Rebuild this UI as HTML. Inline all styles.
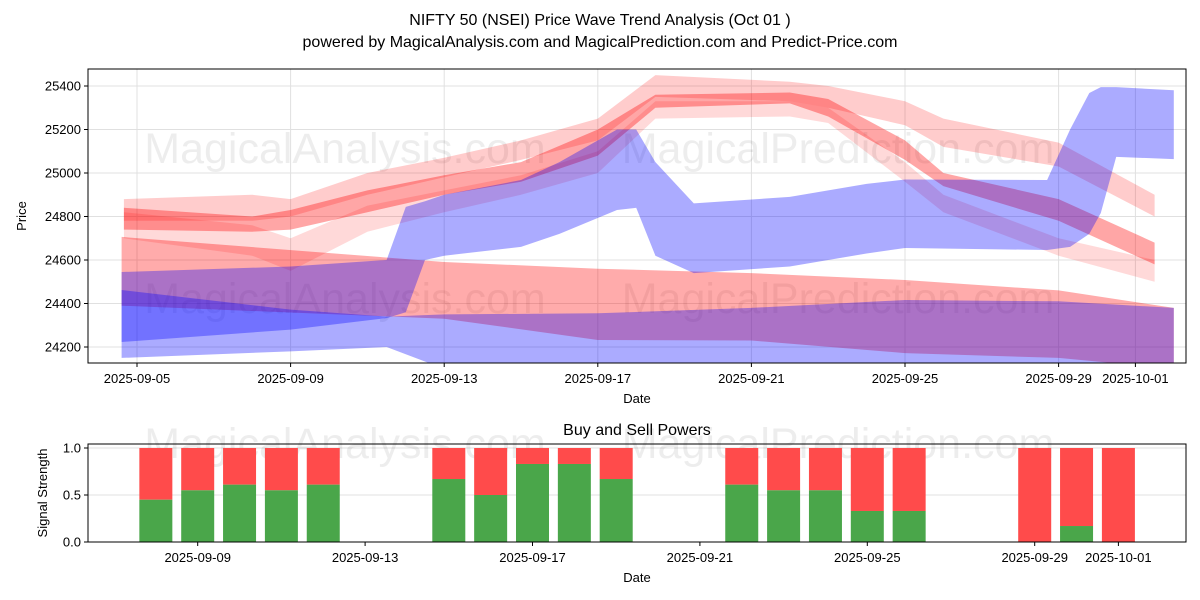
<!DOCTYPE html>
<html><head><meta charset="utf-8"><style>
body{margin:0;background:#fff;}
svg{display:block;font-family:"Liberation Sans","DejaVu Sans",sans-serif;}
</style></head><body>
<svg id="c" width="1200" height="600">
<text x="600" y="25" text-anchor="middle" font-size="16">NIFTY 50 (NSEI) Price Wave Trend Analysis (Oct 01 )</text>
<text x="600" y="47" text-anchor="middle" font-size="16">powered by MagicalAnalysis.com and MagicalPrediction.com and Predict-Price.com</text>
<defs>
<clipPath id="cp1"><rect x="88" y="69" width="1098" height="294"/></clipPath>
<clipPath id="cp2"><rect x="88" y="444" width="1098" height="98"/></clipPath>
</defs>
<g id="topPanel"></g>
<g id="botPanel"></g>
</svg>
<script>
// ---- price panel data ----
const bandRedA_dates=["2025-09-04.66","2025-09-08","2025-09-09","2025-09-11","2025-09-13","2025-09-15","2025-09-17","2025-09-18.5","2025-09-22","2025-09-23","2025-09-25","2025-09-26","2025-09-29","2025-10-01.5"];
const bandRedA_hi=[24840,24800,24830,24920,24990,25050,25200,25360,25370,25340,25150,25000,24880,24680];
const bandRedA_lo=[24740,24730,24740,24820,24900,24960,25080,25300,25320,25260,25060,24940,24780,24580];
const bandRedB_hi=[24880,24900,24880,25000,25070,25150,25250,25450,25420,25400,25330,25250,25140,24900];
const bandRedB_lo=[24780,24780,24800,24900,24980,25060,25150,25350,25330,25300,25220,25120,25030,24800];
const bandRedC_hi=[24820,24760,24700,24850,24920,24990,25100,25330,25330,25300,25050,24900,24700,24600];
const bandRedC_lo=[24700,24620,24550,24730,24820,24900,25000,25250,25260,25230,24960,24820,24620,24500];
const bandRedLow_dates=["2025-09-04.6","2025-09-13","2025-09-17","2025-09-21","2025-09-25","2025-09-29","2025-10-02"];
const bandRedLow_hi=[24706,24591,24560,24540,24508,24460,24380];
const bandRedLow_lo=[24390,24330,24232,24230,24172,24150,24100];
const bandBlueX_dates=["2025-09-04.6","2025-09-09","2025-09-11.5","2025-09-12","2025-09-12.5","2025-09-13","2025-09-15","2025-09-16","2025-09-17.5","2025-09-18","2025-09-18.5","2025-09-19.5","2025-09-22","2025-09-24","2025-09-25","2025-09-28.7","2025-09-29.3","2025-09-29.8","2025-09-30.1","2025-09-30.5","2025-10-02"];
const bandBlueX_hi=[24545,24570,24600,24844,24870,24900,24968,25050,25200,25200,25050,24860,24890,24950,24970,24968,25200,25368,25395,25395,25380];
const bandBlueX_lo=[24223,24280,24333,24360,24600,24620,24660,24720,24830,24840,24620,24540,24570,24630,24655,24646,24660,24720,24816,25074,25064];
const bandBlueY_dates=["2025-09-04.6","2025-09-09","2025-09-11.5","2025-09-13","2025-09-17","2025-09-21","2025-09-25","2025-09-29","2025-10-02"];
const bandBlueY_hi=[24462,24372,24340,24350,24355,24380,24416,24410,24380];
const bandBlueY_lo=[24150,24180,24200,24100,24100,24100,24100,24080,24050];
const priceTicks=[24200,24400,24600,24800,25000,25200,25400];
const dateTicks=["2025-09-05","2025-09-09","2025-09-13","2025-09-17","2025-09-21","2025-09-25","2025-09-29","2025-10-01"];
// ---- signal panel data ----
const sigDates=["2025-09-08","2025-09-09","2025-09-10","2025-09-11","2025-09-12","2025-09-15","2025-09-16","2025-09-17","2025-09-18","2025-09-19","2025-09-22","2025-09-23","2025-09-24","2025-09-25","2025-09-26","2025-09-29","2025-09-30","2025-10-01"];
const buyPower=[0.45,0.55,0.61,0.55,0.61,0.67,0.5,0.83,0.83,0.67,0.61,0.55,0.55,0.33,0.33,0,0.17,0];
const sigTicks=[0,0.5,1.0];
const sigDateTicks=["2025-09-09","2025-09-13","2025-09-17","2025-09-21","2025-09-25","2025-09-29","2025-10-01"];

const NS="http://www.w3.org/2000/svg";
function mk(t,a,p){const e=document.createElementNS(NS,t);for(const k in a)e.setAttribute(k,a[k]);p.appendChild(e);return e;}
function day(s){const m=s.match(/^(\d+)-(\d+)-(\d+(?:\.\d+)?)$/);const base=Date.UTC(+m[1],+m[2]-1,1);return (base-Date.UTC(2025,8,1))/864e5+parseFloat(m[3])-1;}
const d0=day("2025-09-05");
const xT=s=>137+(day(s)-d0)*38.4;
const yT=v=>86+(25400-v)*0.2175;
const d9=day("2025-09-09");
const xB=s=>197.7+(day(s)-d9)*41.85;
const yB=v=>542-v*94;

const topG=document.getElementById('topPanel'), botG=document.getElementById('botPanel');
priceTicks.forEach(v=>{const l=mk('line',{x1:88,x2:1186,y1:yT(v),y2:yT(v),stroke:'#e0e0e0','stroke-width':1},topG);


const tk=mk('line',{x1:84,x2:88,y1:yT(v),y2:yT(v),stroke:'#000'},topG);


const t=mk('text',{x:81,y:yT(v)+4.5,'text-anchor':'end','font-size':13},topG);t.textContent=v;

});
dateTicks.forEach(s=>{const x=xT(s);const l=mk('line',{x1:x,x2:x,y1:69,y2:363,stroke:'#e0e0e0'},topG);


const tk=mk('line',{x1:x,x2:x,y1:363,y2:367,stroke:'#000'},topG);


const t=mk('text',{x:x,y:383,'text-anchor':'middle','font-size':13},topG);t.textContent=s;

});
[[345,163],[838,163],[345,313],[838,313]].forEach((p,i)=>{const t=mk('text',{x:p[0],y:p[1],'text-anchor':'middle','font-size':43,fill:'#000','fill-opacity':0.07},topG);
t.textContent=i%2?'MagicalPrediction.com':'MagicalAnalysis.com';

});
const bands=mk('g',{'clip-path':'url(#cp1)'},topG);
function band(dates,hi,lo,color,op,name){
 let pts=dates.map((d,i)=>xT(d).toFixed(1)+','+yT(hi[i]).toFixed(1));
 for(let i=dates.length-1;i>=0;i--)pts.push(xT(dates[i]).toFixed(1)+','+yT(lo[i]).toFixed(1));
 const p=mk('polygon',{points:pts.join(' '),fill:color,'fill-opacity':op},bands);
 
 }
band(bandRedLow_dates,bandRedLow_hi,bandRedLow_lo,'#ff0000',0.33,'red-lower-band');
band(bandRedA_dates,bandRedC_hi,bandRedC_lo,'#ff0000',0.15,'red-forecast-band-low');
band(bandRedA_dates,bandRedB_hi,bandRedB_lo,'#ff0000',0.2,'red-forecast-band-high');
band(bandRedA_dates,bandRedA_hi,bandRedA_lo,'#ff0000',0.35,'red-forecast-band-main');
band(bandBlueY_dates,bandBlueY_hi,bandBlueY_lo,'#0000ff',0.33,'blue-lower-band');
band(bandBlueX_dates,bandBlueX_hi,bandBlueX_lo,'#0000ff',0.33,'blue-wave-band');
const fr=mk('rect',{x:88,y:69,width:1098,height:294,fill:'none',stroke:'#000','stroke-width':1},topG);


let t=mk('text',{x:637,y:403,'text-anchor':'middle','font-size':13},topG);t.textContent='Date';


t=mk('text',{x:26,y:216,'text-anchor':'middle','font-size':13,transform:'rotate(-90 26 216)'},topG);t.textContent='Price';



sigTicks.forEach(v=>{const l=mk('line',{x1:88,x2:1186,y1:yB(v),y2:yB(v),stroke:'#e0e0e0'},botG);


const tk=mk('line',{x1:84,x2:88,y1:yB(v),y2:yB(v),stroke:'#000'},botG);


const tx=mk('text',{x:81,y:yB(v)+4.5,'text-anchor':'end','font-size':13},botG);tx.textContent=v.toFixed(1);

});
[[345,458],[838,458]].forEach((p,i)=>{const w=mk('text',{x:p[0],y:p[1],'text-anchor':'middle','font-size':43,fill:'#000','fill-opacity':0.07},botG);
w.textContent=i?'MagicalPrediction.com':'MagicalAnalysis.com';

});
const bars=mk('g',{'clip-path':'url(#cp2)'},botG);
sigDates.forEach((d,i)=>{const x=xB(d)-16.5;
 const r=mk('rect',{x:x,y:yB(1),width:33,height:yB(buyPower[i])-yB(1),fill:'#ff4b4b'},bars);
 
 
 const g=mk('rect',{x:x,y:yB(buyPower[i]),width:33,height:yB(0)-yB(buyPower[i]),fill:'#4aa64a'},bars);
 
 });
sigDateTicks.forEach(s=>{const x=xB(s);
const tk=mk('line',{x1:x,x2:x,y1:542,y2:546,stroke:'#000'},botG);


const tx=mk('text',{x:x,y:562,'text-anchor':'middle','font-size':13},botG);tx.textContent=s;

});
const fr2=mk('rect',{x:88,y:444,width:1098,height:98,fill:'none',stroke:'#000'},botG);


t=mk('text',{x:637,y:435,'text-anchor':'middle','font-size':16},botG);t.textContent='Buy and Sell Powers';


t=mk('text',{x:637,y:582,'text-anchor':'middle','font-size':13},botG);t.textContent='Date';


t=mk('text',{x:47,y:493,'text-anchor':'middle','font-size':13,transform:'rotate(-90 47 493)'},botG);t.textContent='Signal Strength';


</script>
</body></html>
